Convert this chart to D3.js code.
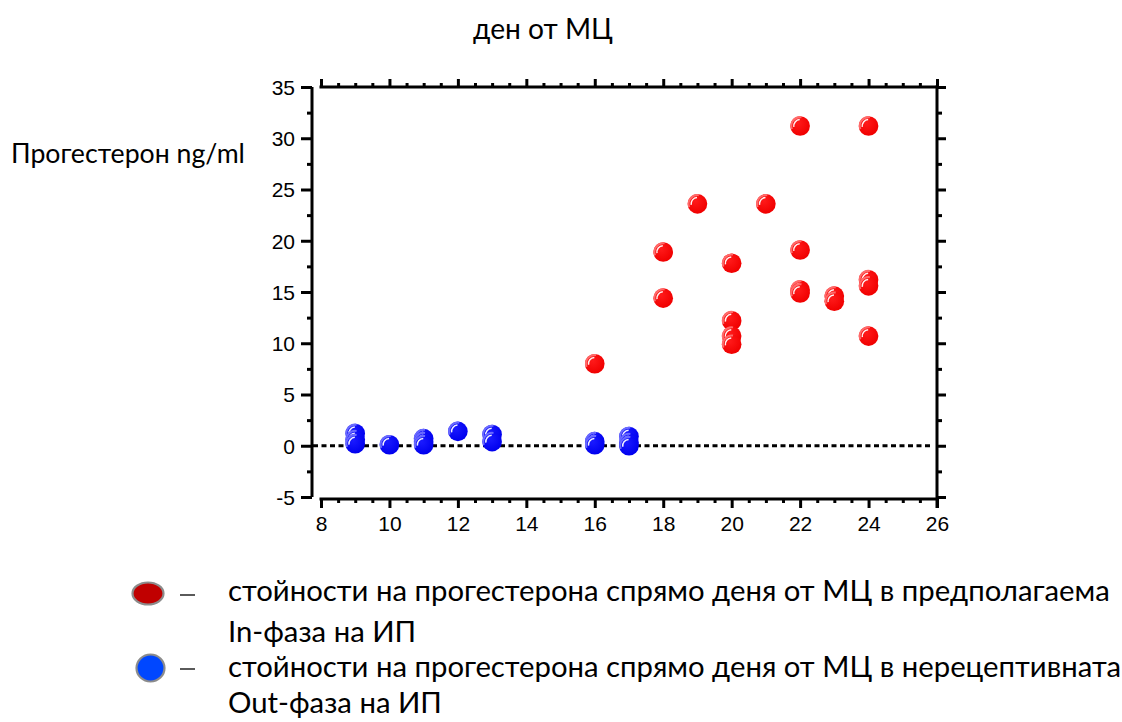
<!DOCTYPE html>
<html><head><meta charset="utf-8">
<script src="https://cdn.jsdelivr.net/npm/d3@7"></script>
<style>html,body{margin:0;padding:0;background:#fff;} svg{display:block;}</style>
</head><body>
<svg id="c" width="1122" height="722"></svg>
<script>
// ---- data ----
const inDays   = [16, 18, 18, 19, 20, 20, 20, 20, 21, 22, 22, 22, 22, 23, 23, 24, 24, 24, 24];
const inValues = [8.0, 18.9, 14.4, 23.6, 17.8, 12.2, 10.7, 9.9, 23.6, 31.2, 19.1, 15.2, 14.9, 14.6, 14.1, 31.2, 16.2, 15.6, 10.7];
const outDays   = [9, 9, 9, 10, 11, 11, 11, 12, 13, 13, 16, 16, 17, 17, 17];
const outValues = [1.2, 0.6, 0.2, 0.1, 0.7, 0.4, 0.1, 1.4, 1.1, 0.4, 0.4, 0.1, 0.9, 0.3, 0.0];
const xTicks = [8, 10, 12, 14, 16, 18, 20, 22, 24, 26];
const yTicks = [-5, 0, 5, 10, 15, 20, 25, 30, 35];
const titleText = "ден от МЦ";
const yLabelText = "Прогестерон ng/ml";
const legendLines = [
  "стойности на прогестерона спрямо деня от МЦ в предполагаема",
  "In-фаза на ИП",
  "стойности на прогестерона спрямо деня от МЦ в нерецептивната",
  "Out-фаза на ИП"
];

const svg = d3.select("#c");
const x = d3.scaleLinear().domain([8, 26]).range([321, 937]);
const y = d3.scaleLinear().domain([-5, 35]).range([497, 87]);
const tickFont = "'Liberation Sans', Arial, sans-serif";
const textFont = "Lato, 'Open Sans', sans-serif";

const defs = svg.append("defs");
function grad(id, c0, c1) {
  const g = defs.append("radialGradient").attr("id", id).attr("cx", "40%").attr("cy", "35%").attr("r", "65%");
  g.append("stop").attr("offset", "0%").attr("stop-color", c0);
  g.append("stop").attr("offset", "100%").attr("stop-color", c1);
}
grad("gr", "#ff1a1a", "#f00000");
grad("gb", "#1a1aff", "#0000ee");

const xMinor = d3.range(8, 26.01, 0.5).filter(v => !xTicks.includes(v));
const yMinor = d3.range(-5, 35.01, 2.5).filter(v => !yTicks.includes(v));
const fmt = d => String(d);

const axW = 3;
const leftAx = d3.axisLeft(y).tickValues(yTicks).tickSize(11).tickPadding(6).tickFormat(fmt);
const gl = svg.append("g").attr("transform", "translate(312,0)").call(leftAx);
const leftMinorAx = d3.axisLeft(y).tickValues(yMinor).tickSize(5).tickFormat("");
const glm = svg.append("g").attr("transform", "translate(312,0)").call(leftMinorAx);
const rightAx = d3.axisRight(y).tickValues(yTicks).tickSize(9).tickFormat("");
const grt = svg.append("g").attr("transform", "translate(937,0)").call(rightAx);
const rightMinorAx = d3.axisRight(y).tickValues(yMinor).tickSize(5).tickFormat("");
const grm = svg.append("g").attr("transform", "translate(937,0)").call(rightMinorAx);
const bottomAx = d3.axisBottom(x).tickValues(xTicks).tickSize(9).tickPadding(8).tickFormat(fmt);
const gbt = svg.append("g").attr("transform", "translate(0,499)").call(bottomAx);
const bottomMinorAx = d3.axisBottom(x).tickValues(xMinor).tickSize(4).tickFormat("");
const gbm = svg.append("g").attr("transform", "translate(0,499)").call(bottomMinorAx);
const topAx = d3.axisTop(x).tickValues(xTicks).tickSize(8).tickFormat("");
const gtp = svg.append("g").attr("transform", "translate(0,87)").call(topAx);
const topMinorAx = d3.axisTop(x).tickValues(xMinor).tickSize(4).tickFormat("");
const gtm = svg.append("g").attr("transform", "translate(0,87)").call(topMinorAx);

[gl, glm, grt, grm, gbt, gbm, gtp, gtm].forEach(g => {
  g.attr("font-family", null).attr("font-size", null);
  g.select(".domain").remove();
  g.selectAll("line").attr("stroke", "#000").attr("stroke-width", axW);
  g.selectAll("text").attr("fill", "#000").style("font-family", tickFont).style("font-size", "21px");
});
gl.selectAll("text").attr("dy", "0.35em");
gbt.selectAll("text").attr("dy", "0.71em");

svg.append("line").attr("x1", 312).attr("x2", 312).attr("y1", y(35)).attr("y2", y(-5))
  .attr("stroke", "#000").attr("stroke-width", axW);
svg.append("line").attr("x1", 937).attr("x2", 937).attr("y1", y(35) - 1.5).attr("y2", 508)
  .attr("stroke", "#000").attr("stroke-width", axW);
svg.append("line").attr("x1", x(8) - 1.5).attr("x2", x(26)).attr("y1", 499).attr("y2", 499)
  .attr("stroke", "#000").attr("stroke-width", axW);
svg.append("line").attr("x1", x(8) - 1.5).attr("x2", x(26)).attr("y1", 87).attr("y2", 87)
  .attr("stroke", "#000").attr("stroke-width", axW);

svg.append("line").attr("x1", 313).attr("x2", 930).attr("y1", y(0)).attr("y2", y(0))
  .attr("stroke", "#000").attr("stroke-width", 3).attr("stroke-dasharray", "5,3.5");

function drawPoints(days, vals, fill, ring) {
  const pts = days.map((d, i) => ({d, v: vals[i]}));
  const g = svg.append("g");
  const p = g.selectAll("g.pt").data(pts).join("g").attr("class", "pt")
    .attr("transform", o => `translate(${x(o.d)},${y(o.v)})`);
  p.append("circle").attr("r", 9.8).attr("fill", fill);
  p.append("path").attr("d", d3.arc()({innerRadius: 7.8, outerRadius: 9.8, startAngle: -Math.PI * 0.62, endAngle: Math.PI * 0.05}))
    .attr("fill", ring);
  p.append("path").attr("d", d3.arc()({innerRadius: 5.6, outerRadius: 7.1, startAngle: -Math.PI * 0.55, endAngle: -Math.PI * 0.02}))
    .attr("fill", "#fff").attr("opacity", 0.95);
}
drawPoints(outDays, outValues, "url(#gb)", "#6a6aff");
drawPoints(inDays, inValues, "url(#gr)", "#ff6a6a");

function fitText(sel, target) {
  sel.style("font-size", "100px");
  const w = sel.node().getComputedTextLength();
  sel.style("font-size", (100 * target / w) + "px");
}

const title = svg.append("text").attr("x", 543).attr("y", 39).attr("text-anchor", "middle")
  .style("font-family", textFont).attr("fill", "#000").text(titleText);
fitText(title, 140);

const ylab = svg.append("text").attr("x", 11).attr("y", 163)
  .style("font-family", textFont).attr("fill", "#000").text(yLabelText);
fitText(ylab, 234);

const legY = [601, 642, 677, 713];
const lt = svg.append("g").selectAll("text").data(legendLines).join("text")
  .attr("x", 228).attr("y", (d, i) => legY[i])
  .style("font-family", textFont).attr("fill", "#000").text(d => d);
const first = lt.filter((d, i) => i === 0);
fitText(first, 882);
const fs = first.style("font-size");
lt.style("font-size", fs);

svg.append("ellipse").attr("cx", 148).attr("cy", 593.5).attr("rx", 15.5).attr("ry", 11)
  .attr("fill", "#c00000").attr("stroke", "#8c8c8c").attr("stroke-width", 2.2);
svg.append("ellipse").attr("cx", 150.5).attr("cy", 668).attr("rx", 14).attr("ry", 13.5)
  .attr("fill", "#0047ff").attr("stroke", "#8c8c8c").attr("stroke-width", 2.2);
[595, 669].forEach(cy => {
  svg.append("line").attr("x1", 180).attr("x2", 195).attr("y1", cy).attr("y2", cy)
    .attr("stroke", "#000").attr("stroke-width", 1.3);
});
</script>
</body></html>
